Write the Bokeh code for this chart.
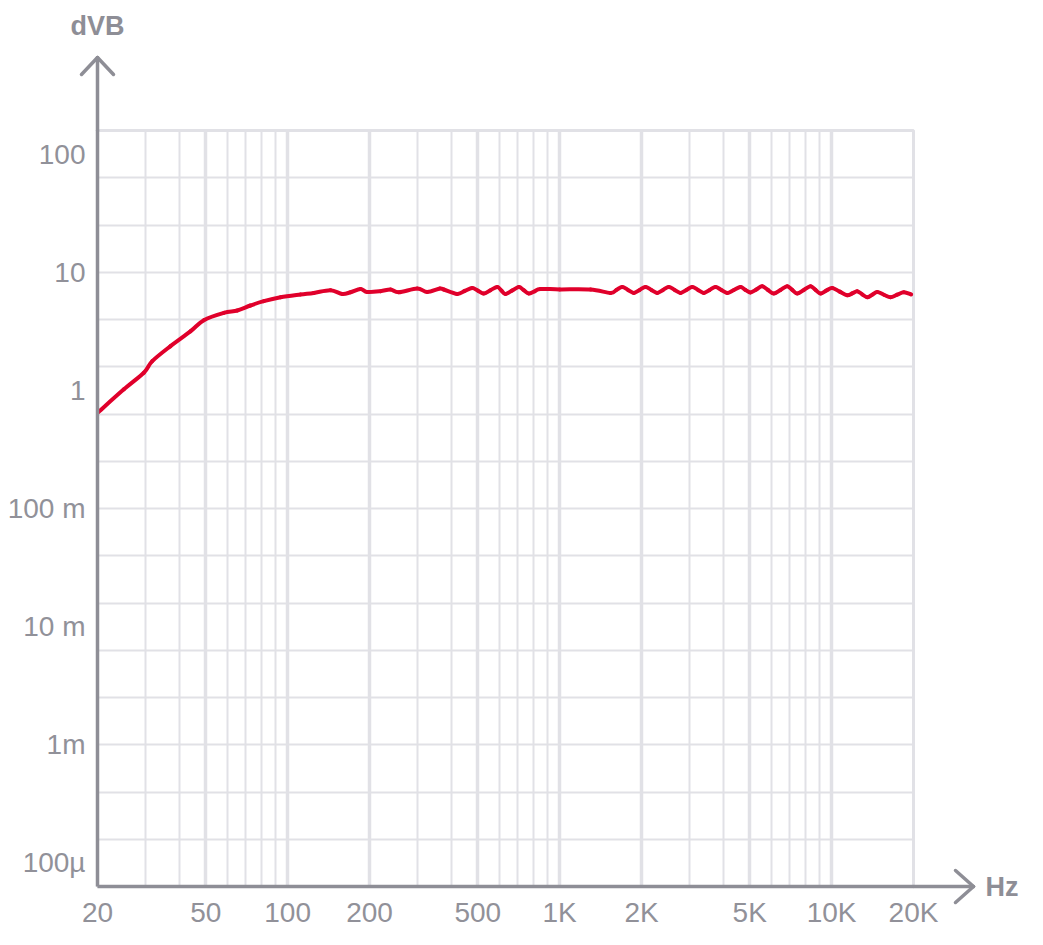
import math
from bokeh.plotting import figure
from bokeh.models import FixedTicker, Grid, Range1d
from bokeh.core.properties import value
from bokeh.embed import file_html
from bokeh.resources import INLINE

# ---------------- data ----------------
freq_hz = [20, 25.0, 29.6, 31.8, 37.1, 44.0, 49.2, 58.3, 65.3, 73.0,
           81.7, 94.2, 111.5, 124.8, 143.8, 158.8, 170.3, 185.3, 196.2, 219.5,
           238.9, 256.4, 299.5, 326, 362.7, 375, 420, 448, 477, 501,
           526, 557, 590, 611, 632, 669, 708, 738, 770, 809,
           851, 1000, 1299, 1538, 1616, 1699, 1784, 1874, 1969, 2069,
           2174, 2285, 2400, 2520, 2648, 2783, 2924, 3073, 3227, 3389,
           3562, 3743, 3933, 4132, 4371, 4624, 4824, 5032, 5287, 5556,
           5836, 6130, 6488, 6866, 7164, 7474, 7906, 8364, 8726, 9103,
           9564, 10049, 10708, 11411, 11905, 12420, 12955, 13513, 14100, 14713,
           15566, 16468, 17422, 18431, 19621]
volts = [0.645, 1.02, 1.41, 1.77, 2.37, 3.17, 3.93, 4.53, 4.74, 5.23,
         5.69, 6.14, 6.48, 6.68, 7.04, 6.55, 6.77, 7.22, 6.81, 6.91,
         7.14, 6.77, 7.28, 6.81, 7.28, 7.14, 6.55, 6.95, 7.37, 6.98,
         6.60, 7.05, 7.51, 7.0, 6.55, 7.0, 7.51, 7.05, 6.60, 6.9,
         7.22, 7.16, 7.14, 6.68, 7.08, 7.51, 7.08, 6.68, 7.08, 7.51,
         7.08, 6.68, 7.08, 7.51, 7.08, 6.68, 7.08, 7.51, 7.08, 6.68,
         7.08, 7.51, 7.08, 6.68, 7.08, 7.51, 7.08, 6.75, 7.15, 7.61,
         7.08, 6.60, 7.08, 7.61, 7.08, 6.60, 7.08, 7.61, 7.08, 6.60,
         7.0, 7.37, 6.85, 6.39, 6.62, 6.91, 6.5, 6.14, 6.45, 6.81,
         6.45, 6.14, 6.45, 6.77, 6.48]

x_ticks = [20, 50, 100, 200, 500, 1000, 2000, 5000, 10000, 20000]
x_tick_labels = ["20", "50", "100", "200", "500", "1K", "2K", "5K", "10K", "20K"]
x_minor_grid = [30, 40, 60, 70, 80, 90, 300, 400, 600, 700, 800, 900,
                3000, 4000, 6000, 7000, 8000, 9000]
y_ticks = [100, 10, 1, 0.1, 0.01, 0.001, 0.0001]
y_tick_labels = ["100", "10", "1", "100 m", "10 m", "1m", "100\u00b5"]
y_grid_steps = list(range(-13, 4))  # grid every 0.4 decade around 10

# ---------------- styling ----------------
AXIS = "#8e8e96"
LABEL = "#919199"
GRID = "#e1e1e6"
RED = "#e0002b"
FONT = "Liberation Sans"

X0, X1 = 20, 20000
LY0, LY1 = -4.2, 2.2
Y0, Y1 = 10 ** LY0, 10 ** LY1
FW, FH = 816, 756
LEFT, TOP = 97, 130  # canvas coords of the frame


def fx(px):
    return 10 ** (math.log10(X0) + (px - LEFT) * 3.0 / FW)


def fy(py):
    return 10 ** (LY1 - (py - TOP) * (LY1 - LY0) / FH)


p = figure(x_axis_type="log", y_axis_type="log",
           x_range=Range1d(X0, X1), y_range=Range1d(Y0, Y1),
           frame_width=FW, frame_height=FH,
           min_border_left=LEFT, min_border_top=TOP,
           min_border_right=125, min_border_bottom=55,
           output_backend="svg", toolbar_location=None,
           background_fill_color="white", border_fill_color="white",
           outline_line_color=GRID, outline_line_width=3)

# grids
p.xgrid.ticker = FixedTicker(ticks=x_ticks)
p.xgrid.grid_line_color = GRID
p.xgrid.grid_line_width = 3.5
p.ygrid.ticker = FixedTicker(ticks=[10 ** (1 + 0.4 * k) for k in y_grid_steps])
p.ygrid.grid_line_color = GRID
p.ygrid.grid_line_width = 2
p.add_layout(Grid(dimension=0, ticker=FixedTicker(ticks=x_minor_grid),
                  grid_line_color=GRID, grid_line_width=2))

# axes
for ax in (p.xaxis, p.yaxis):
    ax.axis_line_color = AXIS
    ax.axis_line_width = 3.5
    ax.major_tick_line_color = None
    ax.minor_tick_line_color = None
    ax.major_tick_out = 0
    ax.major_tick_in = 0
    ax.major_label_text_font = FONT
    ax.major_label_text_font_size = "28px"
    ax.major_label_text_color = LABEL

p.xaxis.ticker = FixedTicker(ticks=x_ticks)
p.xaxis.major_label_overrides = dict(zip(x_ticks, x_tick_labels))
p.xaxis.major_label_standoff = 10
p.yaxis.ticker = FixedTicker(ticks=y_ticks)
p.yaxis.major_label_overrides = dict(zip(y_ticks, y_tick_labels))
p.yaxis.major_label_standoff = 12

# data curve: smooth (Catmull-Rom) path through the read points, drawn as beziers
lx = [math.log10(f) for f in freq_hz]
ly = [math.log10(v) for v in volts]
n = len(lx)
bx0, by0, bx1, by1, c0x, c0y, c1x, c1y = ([] for _ in range(8))
for i in range(n - 1):
    a = max(i - 1, 0)
    d = min(i + 2, n - 1)
    bx0.append(freq_hz[i]); by0.append(volts[i])
    bx1.append(freq_hz[i + 1]); by1.append(volts[i + 1])
    c0x.append(10 ** (lx[i] + (lx[i + 1] - lx[a]) / 6))
    c0y.append(10 ** (ly[i] + (ly[i + 1] - ly[a]) / 6))
    c1x.append(10 ** (lx[i + 1] - (lx[d] - lx[i]) / 6))
    c1y.append(10 ** (ly[i + 1] - (ly[d] - ly[i]) / 6))
p.bezier(x0=bx0, y0=by0, x1=bx1, y1=by1, cx0=c0x, cy0=c0y, cx1=c1x, cy1=c1y,
         line_color=RED, line_width=4, line_cap="round")

# axis extensions with open arrow heads (drawn unclipped at overlay level)
yt = fy(57)
xt = fx(973)
seg_x0 = [X0, fx(81), fx(113), X1, fx(955), fx(955)]
seg_y0 = [Y1, fy(74), fy(74), Y0, fy(870), fy(902)]
seg_x1 = [X0, X0, X0, xt, xt, xt]
seg_y1 = [yt, yt, yt, Y0, Y0, Y0]
p.segment(x0=seg_x0, y0=seg_y0, x1=seg_x1, y1=seg_y1, line_color=AXIS,
          line_width=3.5, line_cap="round", level="overlay")

p.text(x=[X0], y=[fy(25)], text=["dVB"], text_align="center",
       text_baseline="middle", text_font=value(FONT), text_font_style="bold",
       text_font_size="27px", text_color=AXIS, level="overlay")
p.text(x=[fx(985)], y=[fy(886)], text=["Hz"], text_align="left",
       text_baseline="middle", text_font=value(FONT), text_font_style="bold",
       text_font_size="27px", text_color=AXIS, level="overlay")

open("out.html", "w").write(file_html(p, INLINE))
